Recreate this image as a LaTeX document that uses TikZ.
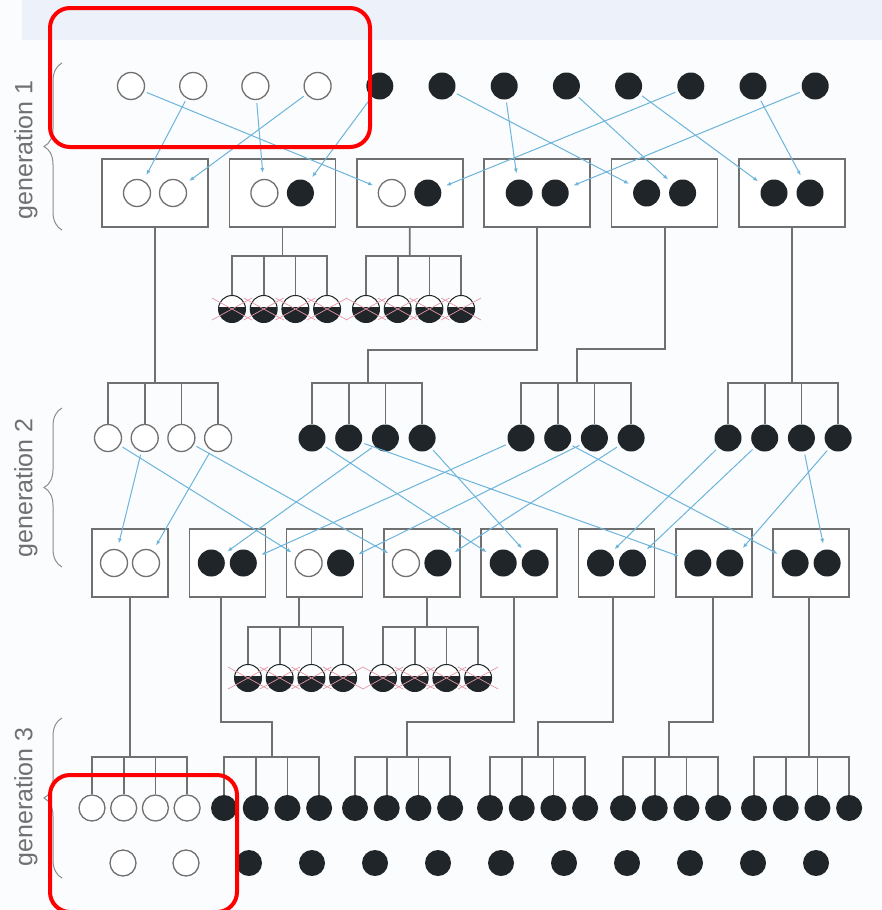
\documentclass[tikz,border=0pt]{standalone}
\usepackage{fontspec}
\setsansfont{Liberation Sans}
\usetikzlibrary{arrows.meta,decorations.pathreplacing}
\definecolor{gnInk}{HTML}{1F2528}
\definecolor{gnGrey}{HTML}{707070}
\definecolor{gnBlue}{HTML}{6DB4DB}
\definecolor{gnPink}{HTML}{E597A6}
\definecolor{gnBand}{HTML}{EDF2FA}
\definecolor{gnPaper}{HTML}{FAFCFD}
\definecolor{gnRed}{HTML}{FF0000}

\begin{document}
\begin{tikzpicture}[x=1pt, y=-1pt, font=\sffamily,
  opendot/.style={circle, draw=gnGrey, line width=1.3pt, fill=white, minimum size=27pt, inner sep=0pt},
  fulldot/.style={circle, fill=gnInk, minimum size=27pt, inner sep=0pt},
  deaddot/.style={circle, draw=gnInk, line width=1pt, fill=white, minimum size=27pt, inner sep=0pt,
    path picture={\fill[gnInk] ([yshift=2pt]path picture bounding box.west) rectangle (path picture bounding box.south east);}},
  cellbox/.style={draw=gnGrey, line width=1.5pt, fill=white, minimum height=68pt, inner sep=0pt},
  treeline/.style={draw=gnGrey, line width=1.8pt},
  gene/.style={draw=gnBlue, line width=1pt, -{Latex[length=5pt,width=4pt]}, shorten <=3pt, shorten >=6pt},
  genlabel/.style={rotate=90, text=gnGrey, font=\sffamily\fontsize{25}{30}\selectfont},
  genbrace/.style={draw=gnGrey!80, line width=1pt, decorate, decoration={brace, amplitude=18pt}},
  annot/.style={draw=gnRed, line width=4pt, rounded corners=20pt}]
  \useasboundingbox (0,0) rectangle (882,910);
  \fill[gnPaper] (0,0) rectangle (882,910);
  \fill[gnBand] (22,0) rectangle (882,40);

  \foreach \i in {1,...,4} \node[opendot] (p\i) at ({131+62.2*(\i-1)},86) {};
  \foreach \i in {5,...,12} \node[fulldot] (p\i) at ({131+62.2*(\i-1)},86) {};

  \foreach \i/\a/\b in {1/opendot/opendot, 2/opendot/fulldot, 3/opendot/fulldot,
      4/fulldot/fulldot, 5/fulldot/fulldot, 6/fulldot/fulldot} {
    \node[cellbox, minimum width=106pt] (b\i) at ({155+127.4*(\i-1)},193) {};
    \node[\a] (b\i-l) at ([xshift=-18pt]b\i.center) {};
    \node[\b] (b\i-r) at ([xshift=18pt]b\i.center) {};
  }

  \foreach \i/\a/\b in {1/opendot/opendot, 2/fulldot/fulldot, 3/opendot/fulldot, 4/opendot/fulldot,
      5/fulldot/fulldot, 6/fulldot/fulldot, 7/fulldot/fulldot, 8/fulldot/fulldot} {
    \node[cellbox, minimum width=76pt] (r\i) at ({130+97.3*(\i-1)},563) {};
    \node[\a] (r\i-l) at ([xshift=-16pt]r\i.center) {};
    \node[\b] (r\i-r) at ([xshift=16pt]r\i.center) {};
  }

  \foreach \k in {1,...,4} \node[opendot] (oA-\k) at ({108+36.7*(\k-1)},438) {};
  \foreach \grp/\x in {oB/312, oC/521, oD/728}
    \foreach \k in {1,...,4} \node[fulldot] (\grp-\k) at ({\x+36.7*(\k-1)},438) {};

  \foreach \grp/\x/\y in {dA/232/309, dB/366/309, dC/248/678, dD/383/678}
    \foreach \k in {1,...,4} \node[deaddot] (\grp-\k) at ({\x+31.7*(\k-1)},\y) {};

  \foreach \k in {1,...,4} \node[opendot, minimum size=26pt] (tA-\k) at ({92+31.7*(\k-1)},808) {};
  \foreach \grp/\x in {tB/224, tC/355, tD/490, tE/623, tF/754}
    \foreach \k in {1,...,4} \node[fulldot, minimum size=26pt] (\grp-\k) at ({\x+31.7*(\k-1)},808) {};

  \foreach \k in {0,1} \node[opendot, minimum size=26pt] (w\k) at ({123+63*\k},863) {};
  \foreach \k in {2,...,11} \node[fulldot, minimum size=26pt] (w\k) at ({123+63*\k},863) {};

  \coordinate (oA-j) at (155,383);
  \coordinate (oB-j) at (368,383);
  \coordinate (oC-j) at (577,383);
  \coordinate (oD-j) at (792,383);
  \coordinate (dA-j) at (282.4,256);
  \coordinate (dB-j) at (409.8,256);
  \coordinate (dC-j) at (299,627);
  \coordinate (dD-j) at (427,627);
  \coordinate (tA-j) at (130,757);
  \coordinate (tB-j) at (272,757);
  \coordinate (tC-j) at (407,757);
  \coordinate (tD-j) at (538,757);
  \coordinate (tE-j) at (669,757);
  \coordinate (tF-j) at (809,757);
  \coordinate (tB-k) at (221,722);
  \coordinate (tC-k) at (514,722);
  \coordinate (tD-k) at (613,722);
  \coordinate (tE-k) at (713,722);

  \foreach \grp in {oA,oB,oC,oD,dA,dB,dC,dD,tA,tB,tC,tD,tE,tF} {
    \draw[treeline] (\grp-1.north) -- (\grp-1.north |- \grp-j) -- (\grp-4.north |- \grp-j) -- (\grp-4.north);
    \draw[treeline] (\grp-2.north) -- (\grp-2.north |- \grp-j);
    \draw[treeline] (\grp-3.north) -- (\grp-3.north |- \grp-j);
  }

  \draw[treeline] (b1.south) -- (oA-j);
  \draw[treeline] (b4.south) -- ++(0,122) -| (oB-j);
  \draw[treeline] (b5.south) -- ++(0,121) -| (oC-j);
  \draw[treeline] (b6.south) -- (oD-j);
  \draw[treeline] (b2.south) -- (dA-j);
  \draw[treeline] (b3.south) -- (dB-j);
  \draw[treeline] (r1.south) -- (tA-j);
  \draw[treeline] (r2.south -| tB-k) -- (tB-k) -| (tB-j);
  \draw[treeline] (r3.south -| dC-j) -- (dC-j);
  \draw[treeline] (r4.south -| dD-j) -- (dD-j);
  \draw[treeline] (r5.south -| tC-k) -- (tC-k) -| (tC-j);
  \draw[treeline] (r6.south -| tD-k) -- (tD-k) -| (tD-j);
  \draw[treeline] (r7.south -| tE-k) -- (tE-k) -| (tE-j);
  \draw[treeline] (r8.south -| tF-j) -- (tF-j);

  \foreach \grp in {dA,dB,dC,dD}
    \foreach \k in {1,...,4}
      \draw[gnPink, line width=0.7pt] (\grp-\k) ++(-20,-11) -- ++(40,22) (\grp-\k) ++(-20,11) -- ++(40,-22);

  \foreach \s/\t in {p1/b3-l, p2/b1-l, p3/b2-l, p4/b1-r, p5/b2-r, p6/b5-l,
      p7/b4-l, p8/b5-r, p9/b6-l, p10/b3-r, p11/b6-r, p12/b4-r}
    \draw[gene] (\s) -- (\t);

  \foreach \s/\t in {oA-1/r3-l, oA-2/r1-l, oA-3/r4-l, oA-4/r1-r, oB-1/r5-l, oB-2/r7-l,
      oB-3/r2-l, oB-4/r5-r, oC-1/r2-r, oC-2/r8-l, oC-3/r3-r, oC-4/r4-r,
      oD-1/r6-l, oD-2/r6-r, oD-3/r8-r, oD-4/r7-r}
    \draw[gene] (\s) -- (\t);

  \node[genlabel] (lab1) at (26,150) {generation 1};
  \node[genlabel] (lab2) at (26,488) {generation 2};
  \node[genlabel] (lab3) at (26,797) {generation 3};
  \draw[genbrace] (62,230) -- (62,63);
  \draw[genbrace] (62,567) -- (62,408);
  \draw[genbrace] (62,878) -- (62,718);

  \draw[annot] (50,8) rectangle (370,147);
  \draw[annot] (50,775) rectangle (237,912);
\end{tikzpicture}
\end{document}
